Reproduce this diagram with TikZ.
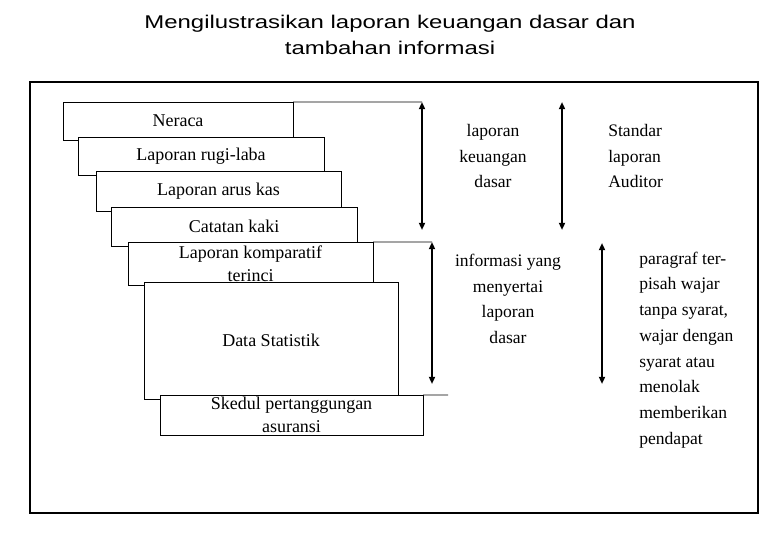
\documentclass[tikz,border=0pt]{standalone}
\usepackage{fontspec}
\setmainfont{Liberation Serif}
\newfontfamily\judulfont[FakeStretch=1.3]{Liberation Sans}
\usetikzlibrary{arrows.meta,positioning}
\tikzset{
		>={Triangle[length=1.8mm,width=1.5mm]},
		kartu/.style={
			rectangle,
			draw=black, line width=0.6pt,
			fill=white,
			inner sep=0pt, outer sep=0pt,
			align=center,
			font=\fontsize{12.8}{16}\selectfont},
		panah/.style={draw, line width=1.3pt, <->},
		garis/.style={draw, line width=0.6pt},
		keterangan/.style={inner sep=0pt, font=\fontsize{12.5}{18.3}\selectfont},
	}

\begin{document}
\begin{tikzpicture}[
			x=0.025cm, y=-0.025cm,
			judul/.style={align=center, font=\judulfont\fontsize{13.1}{18.5}\selectfont},
			bingkai/.style={draw, line width=2pt},
			]
			\useasboundingbox (0,0) rectangle (780,540);
			\node[judul] (judul) at (390,35) {Mengilustrasikan laporan keuangan dasar dan\\tambahan informasi};
			\draw[bingkai] (30,82) rectangle (758,513);
			
			% tumpukan laporan
			\node[kartu, minimum width=5.75cm, minimum height=0.95cm] (neraca) at (178,121) {Neraca};
			\node[kartu, minimum width=6.15cm, minimum height=0.95cm] (rugilaba) at (201,156) {Laporan rugi-laba};
			\node[kartu, minimum width=6.125cm, minimum height=1cm] (aruskas) at (218.5,191) {Laporan arus kas};
			\node[kartu, minimum width=6.15cm, minimum height=0.975cm] (catatan) at (234,226.5) {Catatan kaki};
			\node[kartu, minimum width=6.125cm, minimum height=1.075cm] (komparatif) at (250.5,263.5) {Laporan komparatif\\terinci};
			\node[kartu, minimum width=6.35cm, minimum height=2.925cm] (statistik) at (271,340.5) {Data Statistik};
			\node[kartu, minimum width=6.575cm, minimum height=1cm] (skedul) at (291.5,415) {Skedul pertanggungan\\asuransi};
			
			\coordinate (a1) at (422,102); \coordinate (b1) at (422,230);
			\coordinate (a2) at (562,102); \coordinate (b2) at (562,230);
			\coordinate (a3) at (432,242); \coordinate (b3) at (432,384);
			\coordinate (a4) at (602,243); \coordinate (b4) at (602,384);
			\coordinate (ujung) at (448,395);
			
			\draw[garis] (neraca.north east) -- (a1);
			\draw[garis] (komparatif.north east) -- (a3);
			\draw[garis] (skedul.north east) -- (ujung);
			\draw[panah] (a1) -- (b1);
			\draw[panah] (a2) -- (b2);
			\draw[panah] (a3) -- (b3);
			\draw[panah] (a4) -- (b4);
			
			\node[keterangan, align=center] (dasar) at (493,156) {laporan\\keuangan\\dasar};
			\node[keterangan, align=left, anchor=west] (standar) at (608,156) {Standar\\laporan\\Auditor};
			\node[keterangan, align=center] (menyertai) at (508,299) {informasi yang\\menyertai\\laporan\\dasar};
			\node[keterangan, align=left, anchor=west] (paragraf) at (639,350) {paragraf ter-\\pisah wajar\\tanpa syarat,\\wajar dengan\\syarat atau\\menolak\\memberikan\\pendapat};
\end{tikzpicture}
\end{document}
